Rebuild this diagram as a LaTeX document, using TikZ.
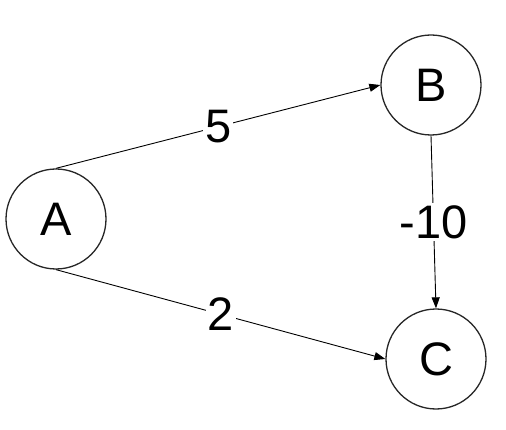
\documentclass[tikz,border=0pt]{standalone}
\usepackage{fontspec}
\setmainfont{Liberation Sans}
\usetikzlibrary{arrows.meta}
\begin{document}
\begin{tikzpicture}[x=1pt,y=-1pt,
  vertex/.style={circle,draw=black!85,line width=1.3pt,minimum size=100pt,inner sep=0pt,font=\fontsize{47}{56}\selectfont},
  edge/.style={draw=black,line width=0.9pt,-{Triangle[length=11pt,width=8pt]}},
  wlabel/.style={fill=white,inner sep=2pt,font=\fontsize{47}{56}\selectfont}]
\useasboundingbox (0,0) rectangle (506,430);
\node[vertex] (A) at (56,219) {A};
\node[vertex] (B) at (431,85) {B};
\node[vertex] (C) at (436,359) {C};
\draw[edge] (A.north) -- node[wlabel,pos=0.5] {5} (B.west);
\draw[edge] (A.south) -- node[wlabel,pos=0.5] {2} (C.west);
\draw[edge] (B.south) -- node[wlabel,pos=0.5] {-10} (C.north);
\end{tikzpicture}
\end{document}
